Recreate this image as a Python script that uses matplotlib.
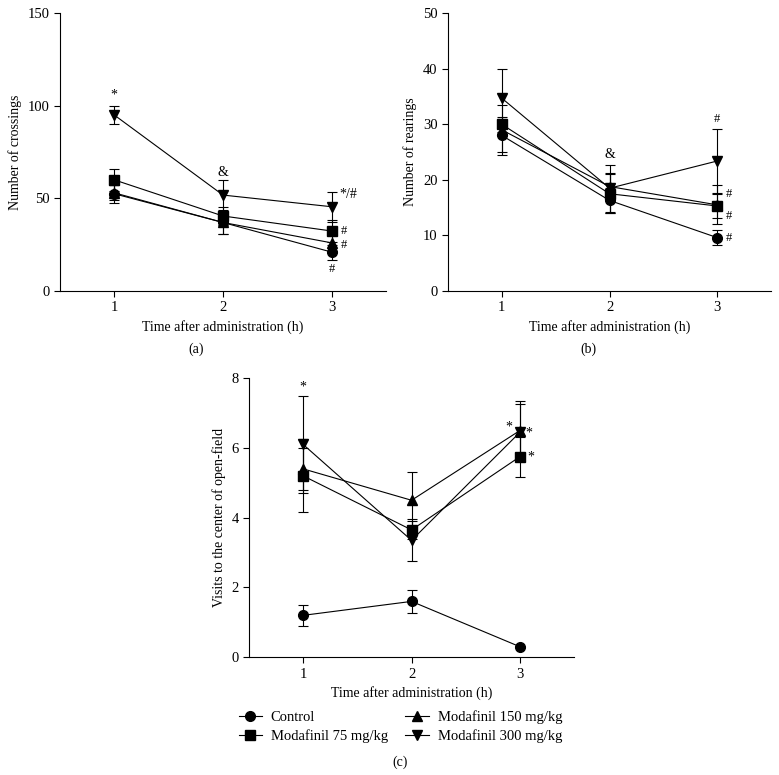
#!/usr/bin/env python3
# -*- coding: utf-8 -*-
import matplotlib
matplotlib.use("Agg")
import matplotlib.pyplot as plt
from matplotlib.lines import Line2D

plt.rcParams['font.family'] = ['Liberation Serif', 'DejaVu Serif']
plt.rcParams['font.size'] = 10

hours = [1, 2, 3]
groups = ["Control", "Modafinil 75 mg/kg", "Modafinil 150 mg/kg", "Modafinil 300 mg/kg"]
markers = ["o", "s", "^", "v"]

# (a) crossings
cross_mean = [[52.5, 37, 21], [60, 40.5, 32.4], [53, 37, 26], [95, 51.8, 45.5]]
cross_err = [[5, 6, 4], [6, 5, 6], [4, 6, 5], [5, 8, 8]]

# (b) rearings
rear_mean = [[28, 16.3, 9.6], [30, 17.5, 15.3], [29, 18.8, 15.5], [34.7, 18.5, 23.4]]
rear_err = [[3, 2.2, 1.3], [1.3, 3.5, 2.2], [4.5, 2.5, 3.5], [5.3, 4.2, 5.8]]

# (c) visits to the center
visit_mean = [[1.2, 1.6, 0.3], [5.2, 3.65, 5.75], [5.4, 4.5, 6.5], [6.1, 3.35, 6.45]]
visit_err = [[0.3, 0.32, 0], [1.05, 0.25, 0.57], [0.6, 0.82, 0.85], [1.4, 0.6, 0.8]]


def draw_panel(ax, means, errs, ylim, yticks, ylabel):
    for i in range(len(groups)):
        ax.errorbar(hours, means[i], yerr=errs[i], color="black", marker=markers[i],
                    markersize=7, linewidth=0.8, elinewidth=0.8, capsize=3.5,
                    capthick=0.8)
    ax.set_xlim(0.5, 3.5)
    ax.set_ylim(*ylim)
    ax.set_xticks(hours)
    ax.set_yticks(yticks)
    ax.spines['top'].set_visible(False)
    ax.spines['right'].set_visible(False)
    ax.spines['left'].set_linewidth(0.8)
    ax.spines['bottom'].set_linewidth(0.8)
    ax.tick_params(direction="out", length=4, width=0.8, labelsize=10.5)
    ax.set_ylabel(ylabel)
    ax.set_xlabel("Time after administration (h)")


fig = plt.figure(figsize=(7.79, 7.75), dpi=100)
ax_a = fig.add_axes([0.077, 0.6245, 0.4185, 0.3585])
ax_b = fig.add_axes([0.575, 0.6245, 0.415, 0.3585])
ax_c = fig.add_axes([0.3196, 0.152, 0.4174, 0.36])

draw_panel(ax_a, cross_mean, cross_err, (0, 150), [0, 50, 100, 150], "Number of crossings")
draw_panel(ax_b, rear_mean, rear_err, (0, 50), [0, 10, 20, 30, 40, 50], "Number of rearings")
draw_panel(ax_c, visit_mean, visit_err, (0, 8), [0, 2, 4, 6, 8], "Visits to the center of open-field")

# significance marks
ax_a.text(1, 106, "*", ha="center", va="center")
ax_a.text(2, 64, "&", ha="center", va="center")
ax_a.text(3.07, 52, "*/#", ha="left", va="center")
ax_a.text(3.08, 32.4, "#", ha="left", va="center", fontsize=9)
ax_a.text(3.08, 25, "#", ha="left", va="center", fontsize=9)
ax_a.text(3, 12, "#", ha="center", va="center", fontsize=9)

ax_b.text(3, 31, "#", ha="center", va="center", fontsize=9)
ax_b.text(2, 24.5, "&", ha="center", va="center")
ax_b.text(3.08, 17.5, "#", ha="left", va="center", fontsize=9)
ax_b.text(3.08, 13.5, "#", ha="left", va="center", fontsize=9)
ax_b.text(3.08, 9.6, "#", ha="left", va="center", fontsize=9)

ax_c.text(1, 7.75, "*", ha="center", va="center")
ax_c.text(2.93, 6.6, "*", ha="right", va="center")
ax_c.text(3.05, 6.42, "*", ha="left", va="center")
ax_c.text(3.07, 5.75, "*", ha="left", va="center")

fig.text(0.252, 0.549, "(a)", ha="center", va="center")
fig.text(0.755, 0.549, "(b)", ha="center", va="center")
fig.text(0.514, 0.017, "(c)", ha="center", va="center")

handles = [Line2D([], [], color="black", marker=m, markersize=7, linewidth=0.8)
           for m in markers]
fig.legend(handles, groups, ncol=2, loc="center", bbox_to_anchor=(0.514, 0.062),
           frameon=False, handlelength=1.6, handletextpad=0.6, columnspacing=1.2,
           labelspacing=0.35, fontsize=10.5)

fig.savefig("out.png", dpi=100)
